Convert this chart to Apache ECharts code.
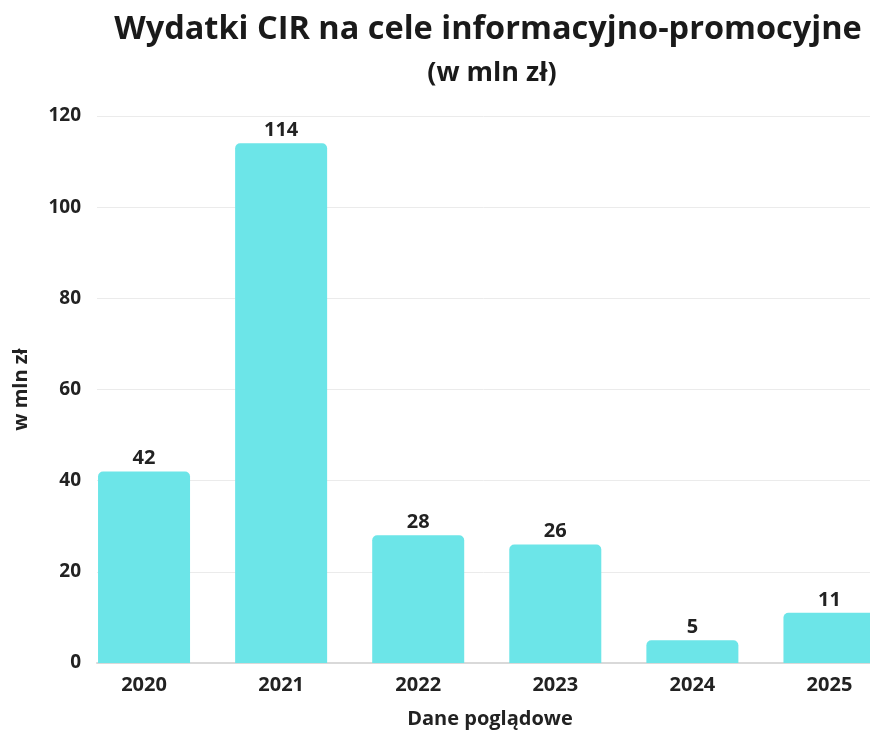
<!DOCTYPE html>
<html>
<head>
<meta charset="utf-8">
<script src="https://cdn.jsdelivr.net/npm/echarts@6/dist/echarts.min.js"></script>
<style>
  html, body { margin: 0; padding: 0; background: #fff; overflow: hidden; }
  /* chart is a bit wider than the window: the last bar gets cut off at the edge */
  #main { width: 898px; height: 736px; }
</style>
</head>
<body>
<div id="main"></div>
<script>
var years = ['2020', '2021', '2022', '2023', '2024', '2025'];
var spending = [42, 114, 28, 26, 5, 11];
var yTicks = [0, 20, 40, 60, 80, 100, 120];

var FONT = '"Open Sans", "Noto Sans", sans-serif';
var myChart = echarts.init(document.getElementById('main'));

var option = {
  backgroundColor: '#ffffff',
  title: [{
    text: 'Wydatki CIR na cele informacyjno-promocyjne',
    left: 483, top: 8, textAlign: 'center',
    textStyle: { fontFamily: FONT, fontWeight: 'bold', fontSize: 32.5, color: '#1a1a1a' }
  }, {
    text: '(w mln zł)',
    left: 487, top: 55, textAlign: 'center',
    textStyle: { fontFamily: FONT, fontWeight: 'bold', fontSize: 27, color: '#1a1a1a' }
  }],
  // grid 0: gridlines + y labels, grid 1: bars
  grid: [
    { left: 97, right: 28, top: 116, bottom: 73 },
    { left: 75.5, right: 0, top: 116, bottom: 73 }
  ],
  xAxis: [{
    gridIndex: 0, type: 'value', min: 0, max: 1,
    axisLine: { show: true, onZero: false, lineStyle: { color: '#d9d9d9', width: 2 } },
    axisTick: { show: false }, axisLabel: { show: false }, splitLine: { show: false },
    name: 'Dane poglądowe', nameLocation: 'middle', nameGap: 46,
    nameTextStyle: { fontFamily: FONT, fontWeight: 'bold', fontSize: 20, color: '#222',
      padding: [0, 0, 0, 13] }
  }, {
    gridIndex: 1, type: 'category', data: years,
    axisLine: { show: false }, axisTick: { show: false },
    axisLabel: { margin: 12, fontFamily: FONT, fontWeight: 'bold', fontSize: 20, color: '#222' }
  }],
  yAxis: [{
    gridIndex: 0, type: 'value', min: 0, max: 120, interval: 20,
    axisLine: { show: false }, axisTick: { show: false },
    axisLabel: { margin: 16, fontFamily: FONT, fontWeight: 'bold', fontSize: 19, color: '#222',
      formatter: function (v) { return yTicks.indexOf(v) >= 0 ? String(v) : ''; } },
    splitLine: { lineStyle: { color: '#ebebeb', width: 1 } },
    name: 'w mln zł', nameLocation: 'middle', nameGap: 66, nameRotate: 90,
    nameTextStyle: { fontFamily: FONT, fontWeight: 'bold', fontSize: 20, color: '#222' }
  }, {
    gridIndex: 1, type: 'value', min: 0, max: 120, interval: 20, show: false
  }],
  series: [{
    type: 'bar',
    xAxisIndex: 1, yAxisIndex: 1,
    data: spending,
    barWidth: 92,
    itemStyle: { color: '#6ce5e8', borderRadius: [5, 5, 0, 0] },
    label: {
      show: true, position: 'top', distance: 3,
      fontFamily: FONT, fontWeight: 'bold', fontSize: 20, color: '#222'
    }
  }]
};

myChart.setOption(option);
</script>
</body>
</html>
